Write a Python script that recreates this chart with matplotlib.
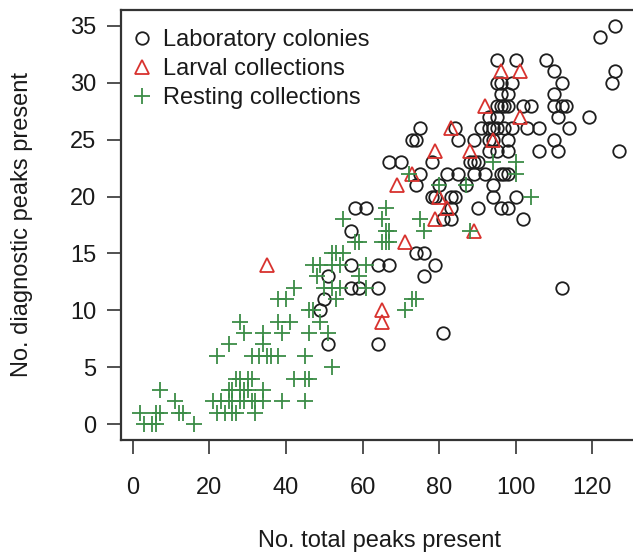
import matplotlib
matplotlib.use("Agg")
import matplotlib.pyplot as plt

plt.rcParams['font.family'] = ['Liberation Sans', 'DejaVu Sans']

# Laboratory colonies (circles)
lab_x = [126, 122, 127, 126, 125, 119, 114, 113, 111, 112, 111, 112,
         108, 110, 110, 110, 112, 110, 106,
         95, 100, 95, 96, 99, 96, 98, 95, 96, 97, 98, 102, 104,
         93, 95, 91, 93, 94, 95, 97, 99, 103, 106, 84, 75,
         73, 74, 85, 89, 93, 94, 98,
         93, 95, 98,
         78, 88, 89, 90, 67, 70,
         75, 82, 85, 89, 92, 96, 97, 98,
         74, 80, 87, 94,
         78, 79, 83, 84, 94, 100,
         83, 90, 96, 98, 58, 61,
         81, 83, 102,
         57, 74, 76, 79, 64, 67, 57, 76, 51, 64, 57, 59, 50, 49, 81, 51, 64]
lab_y = [35, 34, 24, 31, 30, 27, 26, 28, 27, 30, 24, 12,
         32, 31, 29, 28, 28, 25, 24,
         32, 32, 30, 30, 30, 29, 29, 28, 28, 28, 28, 28, 28,
         27, 27, 26, 26, 26, 26, 26, 26, 26, 26, 26, 26,
         25, 25, 25, 25, 25, 25, 25,
         24, 24, 24,
         23, 23, 23, 23, 23, 23,
         22, 22, 22, 22, 22, 22, 22, 22,
         21, 21, 21, 21,
         20, 20, 20, 20, 20, 20,
         19, 19, 19, 19, 19, 19,
         18, 18, 18,
         17, 15, 15, 14, 14, 14, 14, 13, 13, 12, 12, 12, 11, 10, 8, 7, 7]

# Larval collections (triangles)
larv_x = [96, 101, 92, 101, 83, 94, 79, 88, 73, 69, 80, 82, 79, 89, 71, 35, 65, 65]
larv_y = [31, 31, 28, 27, 26, 25, 24, 24, 22, 21, 20, 19, 18, 17, 16, 14, 10, 9]

# Resting collections (crosses)
rest_x = [2, 3, 5, 6, 6, 7, 7, 11, 12, 13, 16,
          21, 23, 25, 26, 28, 29, 31, 32, 34,
          27, 28, 30, 31,
          25, 26, 28, 29, 30, 34,
          22, 24, 26, 27, 32,
          22, 25, 28, 29, 34, 34, 31, 33, 35, 36, 38,
          38, 41, 39, 45, 46, 49, 51, 46, 38, 40, 42, 48, 47, 52,
          42, 45, 46, 39, 45,
          55, 58, 59, 52, 55, 53, 49, 52, 54, 61, 50, 52, 54, 61, 53, 47, 59,
          65, 66, 66, 67, 65, 66, 67, 75, 76, 72, 80, 87, 88, 73, 74, 71,
          94, 100, 100, 104]
rest_y = [1, 0, 0, 0, 1, 1, 3, 2, 1, 1, 0,
          2, 2, 2, 2, 2, 2, 2, 2, 2,
          4, 4, 4, 4,
          3, 3, 3, 3, 3, 3,
          1, 1, 1, 1, 1,
          6, 7, 9, 8, 8, 7, 6, 6, 6, 6, 6,
          9, 9, 8, 6, 8, 9, 8, 10, 11, 11, 12, 13, 14, 5,
          4, 4, 4, 2, 2,
          18, 16, 16, 15, 15, 15, 14, 14, 14, 14, 12, 12, 12, 12, 11, 10, 13,
          18, 19, 17, 17, 16, 16, 16, 18, 17, 22, 21, 21, 17, 11, 11, 10,
          23, 23, 22, 20]

x_ticks = [0, 20, 40, 60, 80, 100, 120]
y_ticks = [0, 5, 10, 15, 20, 25, 30, 35]

W, H = 633, 556
fig = plt.figure(figsize=(W / 100, H / 100), dpi=100)
left_px, right_px, top_px, bottom_px = 121.3, 638.4, 10, 440
ax = fig.add_axes([left_px / W, 1 - bottom_px / H, (right_px - left_px) / W, (bottom_px - top_px) / H])

black = '#1e1e1e'
red = '#d8322e'
green = '#3b8c47'

ax.plot(lab_x, lab_y, linestyle='none', marker='o', markersize=9, markerfacecolor='none',
        markeredgecolor=black, markeredgewidth=1.3, label='Laboratory colonies')
ax.plot(larv_x, larv_y, linestyle='none', marker='^', markersize=10, markerfacecolor='none',
        markeredgecolor=red, markeredgewidth=1.3, label='Larval collections')
ax.plot(rest_x, rest_y, linestyle='none', marker='+', markersize=11,
        markeredgecolor=green, markeredgewidth=1.3, label='Resting collections')

ax.set_xlim(-3, 132)
ax.set_ylim(-1.4, 36.4)
ax.set_xticks(x_ticks)
ax.set_yticks(y_ticks)
ax.tick_params(axis='both', length=10, width=1.2, color='#333333', labelsize=17,
               labelcolor='#1a1a1a')
ax.tick_params(axis='x', pad=17)
ax.tick_params(axis='y', pad=8)
for s in ax.spines.values():
    s.set_linewidth(1.6)
    s.set_color('#333333')

leg_x = (130 - left_px) / (right_px - left_px)
leg_y = 1 - (29 - top_px) / (bottom_px - top_px)
leg = ax.legend(loc='upper left', bbox_to_anchor=(leg_x, leg_y), frameon=False, fontsize=17,
                handlelength=1.0, handletextpad=0.4, labelspacing=0.3, borderaxespad=0,
                borderpad=0)
for t in leg.get_texts():
    t.set_color('#1a1a1a')

fig.text(379.7 / W, 1 - 541 / H, 'No. total peaks present', ha='center', va='center',
         fontsize=17, color='#1a1a1a')
fig.text(22 / W, 1 - 225 / H, 'No. diagnostic peaks present', ha='center', va='center',
         rotation=90, fontsize=17, color='#1a1a1a')

fig.savefig('out.png', dpi=100)
